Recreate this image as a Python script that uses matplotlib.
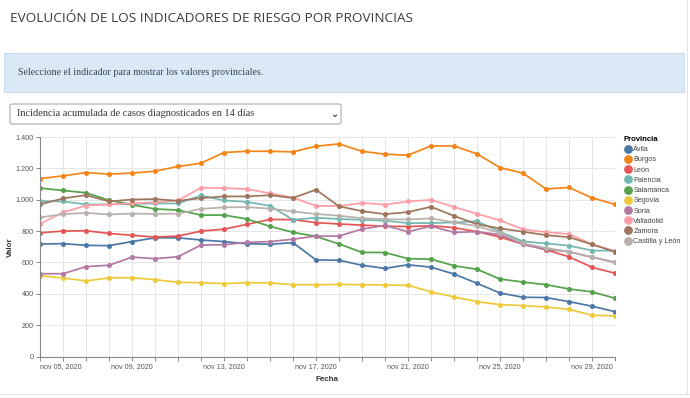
import matplotlib
matplotlib.use("Agg")
import numpy as np
import pandas as pd
import matplotlib.pyplot as plt
from matplotlib.patches import FancyBboxPatch, Rectangle
from matplotlib.lines import Line2D
from matplotlib.ticker import FuncFormatter

#-------------------------------------------------------------#
# Data
#-------------------------------------------------------------#
fechas = pd.date_range("2020-11-05", "2020-11-30", freq="D")

provincias = ["Ávila", "Burgos", "León", "Palencia", "Salamanca", "Segovia",
              "Soria", "Valladolid", "Zamora", "Castilla y León"]

avila = [717, 720, 709, 707, 733, 757, 757, 743, 733, 719, 716, 726, 616,
         614, 582, 562, 585, 570, 526, 467, 405, 378, 376, 350, 321, 286]
burgos = [1135, 1152, 1173, 1163, 1170, 1182, 1212, 1233, 1301, 1309, 1309,
          1305, 1341, 1356, 1309, 1290, 1284, 1343, 1343, 1292, 1205, 1169,
          1069, 1078, 1012, 970]
leon = [789, 800, 802, 785, 773, 762, 768, 800, 812, 843, 874, 873, 854,
        845, 838, 831, 829, 834, 822, 796, 762, 716, 681, 636, 569, 531]
palencia = [991, 989, 970, 970, 973, 976, 976, 1027, 995, 986, 961, 872, 885,
            877, 872, 866, 851, 851, 855, 863, 796, 734, 721, 707, 676, 674]
salamanca = [1074, 1059, 1044, 997, 968, 941, 934, 902, 902, 877, 830, 792,
             766, 718, 664, 663, 624, 621, 579, 556, 494, 475, 458, 431, 412,
             372]
segovia = [515, 501, 482, 501, 503, 490, 473, 471, 465, 471, 469, 458, 458,
           460, 458, 456, 454, 412, 380, 350, 331, 325, 316, 301, 263, 259]
soria = [528, 528, 573, 582, 634, 624, 636, 711, 713, 728, 733, 748, 768,
         768, 813, 836, 796, 831, 792, 796, 777, 715, 684, 668, 633, 600]
valladolid = [846, 919, 963, 970, 977, 983, 995, 1076, 1074, 1068, 1041,
              1013, 961, 960, 979, 969, 989, 999, 954, 910, 868, 811, 793,
              781, 716, 672]
zamora = [970, 1008, 1029, 989, 1001, 1004, 993, 1010, 1021, 1021, 1029,
          1011, 1064, 958, 927, 908, 921, 955, 897, 843, 817, 796, 774, 761,
          715, 668]
castilla_leon = [887, 908, 916, 906, 912, 909, 911, 942, 951, 953, 943, 925,
                 909, 898, 882, 875, 874, 881, 855, 832, 788, 722, 692, 669,
                 635, 602]

series = [avila, burgos, leon, palencia, salamanca, segovia, soria,
          valladolid, zamora, castilla_leon]

colores = ["#4c78a8", "#f58518", "#e45756", "#72b7b2", "#54a24b", "#eeca3b",
           "#b279a2", "#ff9da6", "#9d755d", "#bab0ac"]

tick_fechas = ["2020-11-05", "2020-11-09", "2020-11-13", "2020-11-17",
               "2020-11-21", "2020-11-25", "2020-11-29"]
tick_labels = ["nov 05, 2020", "nov 09, 2020", "nov 13, 2020", "nov 17, 2020",
               "nov 21, 2020", "nov 25, 2020", "nov 29, 2020"]

#-------------------------------------------------------------#
# Figure / header
#-------------------------------------------------------------#
W, H = 690, 398
fig = plt.figure(figsize=(W / 100, H / 100), dpi=100)
fig.patch.set_facecolor("white")

def fx(px):
    return px / W

def fy(py):
    return 1 - py / H

fig.text(fx(10), fy(19), "EVOLUCIÓN DE LOS INDICADORES DE RIESGO POR PROVINCIAS",
         family="Open Sans", fontsize=9.7, color="#3a3a3a", va="center",
         ha="left")

# info box
fig.patches.append(Rectangle((fx(4), fy(92)), fx(680), (92 - 53) / H,
                             transform=fig.transFigure, facecolor="#dbe8f5",
                             edgecolor="#c9dcee", linewidth=0.8))
fig.text(fx(18), fy(72.5), "Seleccione el indicador para mostrar los valores provinciales.",
         family="Liberation Serif", fontsize=7.1, color="#31455a", va="center")

# dropdown
fig.patches.append(FancyBboxPatch((fx(10), fy(124)), fx(331), (124 - 104) / H,
                                  boxstyle="round,pad=0,rounding_size=0.004",
                                  transform=fig.transFigure, facecolor="white",
                                  edgecolor="#a9a9a9", linewidth=0.8))
fig.text(fx(17), fy(114), "Incidencia acumulada de casos diagnosticados en 14 días",
         family="Liberation Serif", fontsize=7.5, color="#333333", va="center")
fig.text(fx(334), fy(114), "⌄", family="DejaVu Sans", fontsize=7,
         color="#333333", va="center", ha="center", fontweight="bold")

# page edges
fig.add_artist(Line2D([fx(0), fx(690)], [fy(394), fy(394)], color="#e3e3e3",
                      linewidth=0.8, transform=fig.transFigure))
fig.add_artist(Line2D([fx(687), fx(687)], [fy(0), fy(394)], color="#e3e3e3",
                      linewidth=0.8, transform=fig.transFigure))

#-------------------------------------------------------------#
# Plot
#-------------------------------------------------------------#
ax = fig.add_axes([fx(40), 1 - 356.5 / H, (615 - 40) / W, (356.5 - 137) / H])

for nombre, vals, c in zip(provincias, series, colores):
    ax.plot(fechas, vals, color=c, linewidth=1.25, marker="o", markersize=2.6,
            label=nombre)

ax.set_ylim(0, 1400)
ax.set_yticks(np.arange(0, 1401, 200))
ax.yaxis.set_major_formatter(FuncFormatter(lambda v, p: f"{int(v):,}".replace(",", ".")))
ax.set_xlim(fechas[0], fechas[-1])
ax.set_xticks(fechas)
ax.set_xticklabels([""] * len(fechas))
ax.grid(True, color="#e6e6e6", linewidth=0.7)
ax.set_axisbelow(True)
for s in ["top", "right"]:
    ax.spines[s].set_visible(False)
for s in ["left", "bottom"]:
    ax.spines[s].set_color("#888888")
    ax.spines[s].set_linewidth(0.8)
ax.tick_params(axis="both", length=3, width=0.7, color="#888888",
               labelsize=5.2, labelcolor="#555555", pad=1.5)

# date labels
for d, lab in zip(tick_fechas, tick_labels):
    ha = "left" if lab == tick_labels[0] else "center"
    ax.annotate(lab, xy=(pd.Timestamp(d), 0), xycoords=("data", "axes fraction"),
                xytext=(0, -5), textcoords="offset points", ha=ha, va="top",
                fontsize=5.2, color="#555555", family="Liberation Sans")

for lab in ax.get_yticklabels():
    lab.set_family("Liberation Sans")

ax.set_xlabel("Fecha", fontsize=5.8, fontweight="bold", color="#333333",
              family="Liberation Sans")
ax.xaxis.set_label_coords(0.5, -0.09)
ax.set_ylabel("Valor", fontsize=5.8, fontweight="bold", color="#333333",
              family="Liberation Sans")
ax.yaxis.set_label_coords(-0.045, 0.5)

handles = [Line2D([], [], linestyle="none", marker="o", markersize=5.3,
                  markerfacecolor=c, markeredgecolor=c) for c in colores]
leg = fig.legend(handles, provincias, loc="upper left",
                 bbox_to_anchor=(fx(621), fy(133)), frameon=False,
                 prop={"family": "Liberation Sans", "size": 5.2},
                 title="Provincia", handletextpad=0.1, labelspacing=0.44,
                 borderaxespad=0, handlelength=1.2, alignment="left")
leg.get_title().set_fontweight("bold")
leg.get_title().set_fontsize(5.6)
leg.get_title().set_family("Liberation Sans")
for t in leg.get_texts():
    t.set_color("#444444")

fig.savefig("out.png", dpi=100)
